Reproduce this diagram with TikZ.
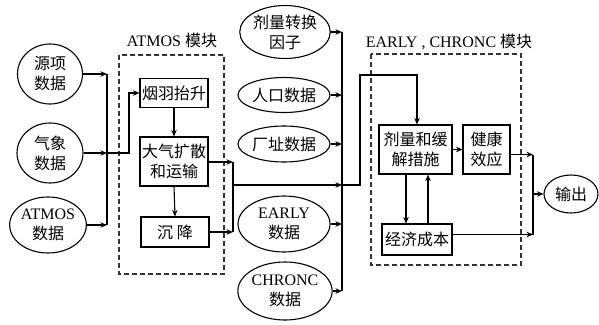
\documentclass[tikz,border=0pt]{standalone}
\usepackage{fontspec}
\setmainfont{Liberation Serif}
\newfontfamily\cjk{Noto Sans CJK SC}
\usetikzlibrary{arrows.meta,shapes.geometric,calc}
\tikzset{
  base/.style={font=\fontsize{16}{20}\selectfont, align=center, inner sep=0pt},
  ell/.style={base, ellipse, draw, line width=1.1pt},
  boxn/.style={base, rectangle, draw, line width=1.1pt},
  modbox/.style={draw=black!80, dashed, dash pattern=on 5pt off 3pt, line width=1.1pt},
  ln/.style={line width=1.1pt},
  arr/.style={line width=1.1pt, -{Stealth[length=6.5pt,width=5.5pt]}},
  ttl/.style={base}
}
\begin{document}
\begin{tikzpicture}[x=1pt,y=-1pt]
\useasboundingbox (0,0) rectangle (599,324);
% left inputs
\node[ell, minimum width=65pt, minimum height=60pt] (src) at (50,74) {\cjk 源项\\\cjk 数据};
\node[ell, minimum width=66pt, minimum height=60pt] (met) at (50,153) {\cjk 气象\\\cjk 数据};
\node[ell, minimum width=70pt, minimum height=56pt] (atm) at (48,225) {ATMOS\\\cjk 数据};
% ATMOS module
\draw[modbox] (119,55) rectangle (224,274);
\node[ttl] (t1) at (172,40) {ATMOS \cjk 模块};
\node[boxn, minimum width=68pt, minimum height=29pt] (plume) at (174,93) {\cjk 烟羽抬升};
\node[boxn, minimum width=68pt, minimum height=49pt] (disp) at (174,161.5) {\cjk 大气扩散\\\cjk 和运输};
\node[boxn, minimum width=68pt, minimum height=30pt] (dep) at (175,232) {\cjk 沉\ 降};
% right inputs
\node[ell, minimum width=90pt, minimum height=53pt] (dcf) at (285,32) {\cjk 剂量转换\\\cjk 因子};
\node[ell, minimum width=92pt, minimum height=35pt] (pop) at (284,95) {\cjk 人口数据};
\node[ell, minimum width=92pt, minimum height=36pt] (site) at (284,144) {\cjk 厂址数据};
\node[ell, minimum width=92pt, minimum height=56pt] (early) at (284,224) {EARLY\\\cjk 数据};
\node[ell, minimum width=92pt, minimum height=58pt] (chr) at (285,291) {CHRONC\\\cjk 数据};
% EARLY/CHRONC module
\draw[modbox] (371,54) rectangle (521,265);
\node[ttl] (t2) at (449,42) {EARLY , CHRONC \cjk 模块};
\node[boxn, minimum width=73pt, minimum height=49pt] (dose) at (415.5,149.5) {\cjk 剂量和缓\\\cjk 解措施};
\node[boxn, minimum width=47pt, minimum height=49pt] (hlth) at (486.5,149.5) {\cjk 健康\\\cjk 效应};
\node[boxn, minimum width=70pt, minimum height=31pt] (econ) at (417,239.5) {\cjk 经济成本};
\node[ell, minimum width=54pt, minimum height=38pt] (out) at (571,194) {\cjk 输出};
% coordinates
\coordinate (bL) at (107,0);
\coordinate (bM) at (233,0);
\coordinate (bR) at (342,0);
\coordinate (bO) at (533,0);
% left bus
\draw[arr] (src.east) -- (src.east -| bL);
\draw[arr] (met.east) -- (met.east -| bL);
\draw[arr] (atm.east) -- (atm.east -| bL);
\draw[ln] (src.east -| bL) -- (atm.east -| bL);
\coordinate (k1) at (129,153);
\draw[arr] (met.east -| bL) -- (k1) |- (plume.west);
% ATMOS internals
\draw[arr] (plume.south) -- (disp.north);
\draw[arr] (disp.south) -- (dep.north);
\coordinate (dE) at ($(disp.east)+(0,0.5)$);
\draw[arr] (dE) -- (dE -| bM);
\draw[arr] (dep.east) -- (dep.east -| bM);
\draw[ln] (dE -| bM) -- (dep.east -| bM);
% right bus
\coordinate (m1) at (233,185);
\draw[arr] (m1) -- (m1 -| bR);
\draw[arr] (dcf.east) -- (dcf.east -| bR);
\draw[arr] (pop.east) -- (pop.east -| bR);
\draw[arr] (site.east) -- (site.east -| bR);
\draw[arr] (early.east) -- (early.east -| bR);
\draw[arr] (chr.east) -- (chr.east -| bR);
\draw[ln] (dcf.east -| bR) -- (chr.east -| bR);
\coordinate (k2) at (360,185);
\coordinate (k3) at (360,75);
\coordinate (k4) at (417,75);
\draw[arr] (m1 -| bR) -- (k2) -- (k3) -- (k4) -- (k4 |- dose.north);
% module internals
\draw[arr] (dose.east) -- (hlth.west);
\coordinate (dn) at (406,0);
\coordinate (up) at (428,0);
\draw[arr] (dn |- dose.south) -- (dn |- econ.north);
\draw[arr] (up |- econ.north) -- (up |- dose.south);
\coordinate (hE) at ($(hlth.east)+(0,5)$);
\coordinate (eE) at ($(econ.east)+(0,-5)$);
\draw[arr] (hE) -- (hE -| bO);
\draw[arr] (eE) -- (eE -| bO);
\draw[ln] (hE -| bO) -- (eE -| bO);
\draw[arr] (out.west -| bO) -- (out.west);
\end{tikzpicture}
\end{document}
